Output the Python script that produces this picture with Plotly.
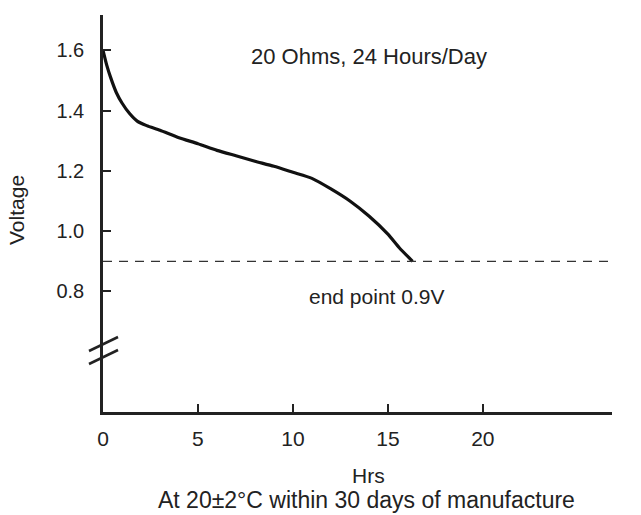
import plotly.graph_objects as go

# ---- data ----
hours = [0, 0.2, 0.4, 0.7, 1.0, 1.4, 1.8, 2.3, 3, 4, 5, 6, 7, 8, 9, 10, 11, 12, 13, 14, 15, 15.6, 16.3]
voltage = [1.60, 1.55, 1.51, 1.46, 1.425, 1.39, 1.365, 1.35, 1.335, 1.31, 1.29, 1.268, 1.25, 1.232,
           1.215, 1.195, 1.175, 1.14, 1.10, 1.05, 0.99, 0.945, 0.90]
end_point = 0.9
x_ticks = [0, 5, 10, 15, 20]
y_ticks = [0.8, 1.0, 1.2, 1.4, 1.6]
x_range = [0, 26.8]
y_range = [0.40, 1.717]

FONT = "Liberation Sans, Arial, sans-serif"
INK = "#222222"

fig = go.Figure()
fig.add_trace(go.Scatter(x=hours, y=voltage, mode="lines",
                         line=dict(color="#111111", width=3.2, shape="spline", smoothing=0.6),
                         hoverinfo="skip", showlegend=False))
fig.add_trace(go.Scatter(x=x_range, y=[end_point, end_point], mode="lines",
                         line=dict(color="#333333", width=1.2, dash="9px,7px"),
                         hoverinfo="skip", showlegend=False))

W, H = 641, 515
PL, PR, PT, PB = 103, 612, 15, 412          # plot area in window pixels
L, R, T, B = PL, W - PR, PT, H - PB
pw, ph = PR - PL, PB - PT

def px(x):
    return (x - PL) / pw

def py(y):
    return (PB - y) / ph

shapes = []
for (x0, y0, x1, y1) in [(89, 351, 118, 337), (89, 364, 118, 350)]:
    shapes.append(dict(type="line", xref="paper", yref="paper",
                       x0=px(x0), y0=py(y0), x1=px(x1), y1=py(y1),
                       line=dict(color=INK, width=2.5)))

def note(x, y, text, size, angle=0):
    return dict(x=x, y=y, xref="paper", yref="paper", text=text, showarrow=False,
                xanchor="center", yanchor="middle", textangle=angle,
                font=dict(size=size, color=INK, family=FONT))

annotations = [
    note(px(369), py(57), "20 Ohms, 24 Hours/Day", 22),
    note(px(376), py(296), "end point 0.9V", 21),
    note(px(368), py(475), "Hrs", 21),
    note(px(366), py(500), "At 20±2°C within 30 days of manufacture", 23),
    note(px(17), py(210), "Voltage", 21, angle=-90),
]

fig.update_layout(
    width=W, height=H,
    margin=dict(l=L, r=R, t=T, b=B),
    paper_bgcolor="white", plot_bgcolor="white",
    font=dict(family=FONT, color=INK, size=20),
    xaxis=dict(range=x_range, tickvals=x_ticks, ticks="inside", ticklen=8, tickwidth=2,
               tickcolor=INK, showline=True, linecolor=INK, linewidth=2.5, showgrid=False,
               zeroline=False, ticklabelstandoff=6, tickfont=dict(size=21)),
    yaxis=dict(range=y_range, tickvals=y_ticks, tickformat=".1f", ticks="inside", ticklen=8,
               tickwidth=2, tickcolor=INK, showline=True, linecolor=INK, linewidth=2.5,
               showgrid=False, zeroline=False, ticklabelstandoff=12, tickfont=dict(size=20)),
    shapes=shapes, annotations=annotations,
)

# remove the page's default 8px body margin so the figure fills the window exactly
fig.write_html("out.html", config={"displayModeBar": False},
               post_script="document.body.style.margin='0px';")
